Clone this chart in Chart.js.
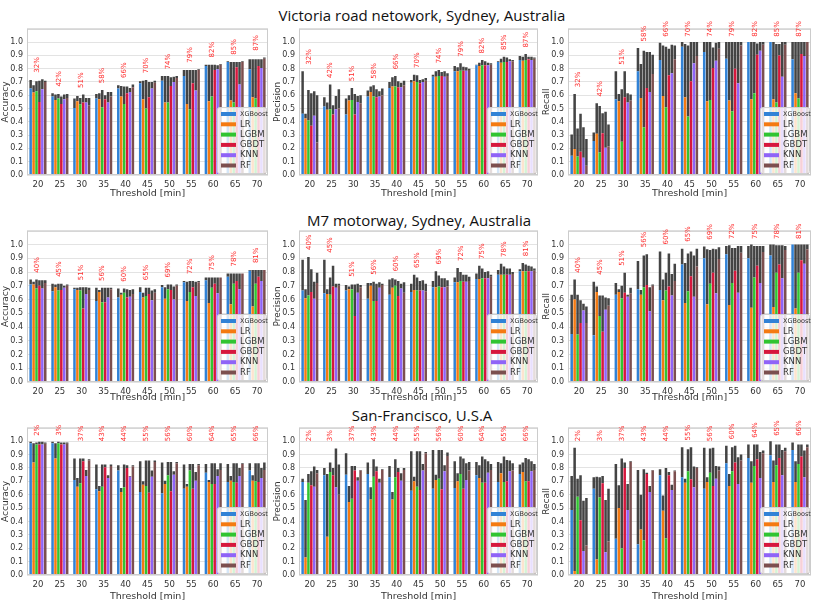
<!DOCTYPE html>
<html lang="en">
<head>
<meta charset="UTF-8">
<title>Threshold comparison</title>
<style>
    body { margin: 0; background: #fff; width: 813px; height: 603px; position: relative; overflow: hidden; }
    .panel { position: absolute; }
    .rowtitle { position: absolute; font-family: "Open Sans", sans-serif; font-size: 15px; color: #111;
                white-space: nowrap; transform: translateX(-50%); line-height: 18px; }
</style>
</head>
<body>
<div class="rowtitle" style="left:422px;top:6px">Victoria road netowork, Sydney, Australia</div>
<div class="rowtitle" style="left:419px;top:211px">M7 motorway, Sydney, Australia</div>
<div class="rowtitle" style="left:422px;top:406px">San-Francisco, U.S.A</div>

<div class="panel" style="left:0px;top:20px;width:270px;height:180px"><canvas id="vicAcc"></canvas></div>
<div class="panel" style="left:272px;top:20px;width:268px;height:180px"><canvas id="vicPre"></canvas></div>
<div class="panel" style="left:541px;top:20px;width:272px;height:180px"><canvas id="vicRec"></canvas></div>

<div class="panel" style="left:0px;top:222px;width:270px;height:182px"><canvas id="m7Acc"></canvas></div>
<div class="panel" style="left:272px;top:222px;width:268px;height:182px"><canvas id="m7Pre"></canvas></div>
<div class="panel" style="left:541px;top:222px;width:272px;height:182px"><canvas id="m7Rec"></canvas></div>

<div class="panel" style="left:0px;top:419px;width:270px;height:184px"><canvas id="sfAcc"></canvas></div>
<div class="panel" style="left:272px;top:419px;width:268px;height:184px"><canvas id="sfPre"></canvas></div>
<div class="panel" style="left:541px;top:419px;width:272px;height:184px"><canvas id="sfRec"></canvas></div>

<script src="https://cdn.jsdelivr.net/npm/chart.js"></script>
<script>
    const thresholds = ['20', '25', '30', '35', '40', '45', '50', '55', '60', '65', '70'];
    const models = ['XGBoost', 'LR', 'LGBM', 'GBDT', 'KNN', 'RF'];
    const modelColors = ['#3182d6', '#f47a12', '#31c431', '#d6173d', '#8f63f7', '#7c4f4f'];

    // red % labels over each threshold group
    const vicPct = [32, 42, 51, 58, 66, 70, 74, 79, 82, 85, 87];
    const m7Pct = [40, 45, 51, 56, 60, 65, 69, 72, 75, 78, 81];
    const sfPct = [2, 3, 37, 43, 44, 55, 56, 60, 64, 65, 66];

    // lo = top of coloured bar, hi = top of the dark error band (one row per model)
    const vicAccLo = [
        [0.65, 0.59, 0.505, 0.575, 0.65, 0.69, 0.71, 0.745, 0.82, 0.85, 0.795],
        [0.62, 0.565, 0.555, 0.57, 0.59, 0.57, 0.545, 0.535, 0.555, 0.56, 0.585],
        [0.63, 0.575, 0.53, 0.51, 0.535, 0.50, 0.545, 0.495, 0.59, 0.545, 0.575],
        [0.55, 0.535, 0.545, 0.57, 0.615, 0.585, 0.67, 0.69, 0.79, 0.81, 0.82],
        [0.645, 0.57, 0.545, 0.545, 0.625, 0.65, 0.70, 0.635, 0.795, 0.68, 0.805],
        [0.70, 0.58, 0.525, 0.59, 0.66, 0.695, 0.73, 0.79, 0.83, 0.85, 0.875]
    ];
    const vicAccHi = [
        [0.715, 0.615, 0.575, 0.61, 0.675, 0.705, 0.745, 0.79, 0.83, 0.855, 0.87],
        [0.675, 0.605, 0.595, 0.615, 0.67, 0.71, 0.745, 0.79, 0.83, 0.85, 0.87],
        [0.705, 0.61, 0.58, 0.64, 0.665, 0.715, 0.745, 0.79, 0.83, 0.85, 0.87],
        [0.71, 0.59, 0.605, 0.60, 0.665, 0.70, 0.735, 0.79, 0.83, 0.85, 0.87],
        [0.72, 0.605, 0.58, 0.625, 0.655, 0.70, 0.74, 0.79, 0.825, 0.85, 0.87],
        [0.71, 0.61, 0.58, 0.625, 0.68, 0.71, 0.745, 0.795, 0.835, 0.855, 0.885]
    ];
    const vicPreLo = [
        [0.46, 0.515, 0.455, 0.59, 0.655, 0.695, 0.74, 0.78, 0.825, 0.85, 0.865],
        [0.425, 0.49, 0.56, 0.625, 0.665, 0.705, 0.74, 0.78, 0.82, 0.845, 0.86],
        [0.41, 0.495, 0.565, 0.59, 0.665, 0.70, 0.745, 0.785, 0.825, 0.85, 0.865],
        [0.37, 0.455, 0.455, 0.585, 0.66, 0.69, 0.745, 0.785, 0.825, 0.85, 0.87],
        [0.445, 0.495, 0.55, 0.59, 0.66, 0.70, 0.74, 0.785, 0.825, 0.855, 0.865],
        [0.245, 0.50, 0.54, 0.60, 0.675, 0.71, 0.745, 0.79, 0.83, 0.855, 0.875]
    ];
    const vicPreHi = [
        [0.78, 0.585, 0.575, 0.635, 0.70, 0.715, 0.755, 0.82, 0.83, 0.855, 0.895],
        [0.46, 0.545, 0.60, 0.665, 0.735, 0.755, 0.78, 0.81, 0.845, 0.875, 0.89],
        [0.64, 0.68, 0.655, 0.675, 0.745, 0.75, 0.79, 0.84, 0.865, 0.89, 0.91],
        [0.615, 0.525, 0.61, 0.645, 0.705, 0.715, 0.775, 0.815, 0.855, 0.885, 0.89],
        [0.63, 0.595, 0.595, 0.63, 0.695, 0.72, 0.78, 0.81, 0.845, 0.87, 0.89],
        [0.60, 0.645, 0.60, 0.65, 0.71, 0.73, 0.765, 0.80, 0.84, 0.865, 0.885]
    ];
    const vicRecLo = [
        [0.145, 0.255, 0.57, 0.78, 0.865, 0.965, 0.925, 0.875, 1.0, 1.0, 0.87],
        [0.195, 0.31, 0.555, 0.58, 0.595, 0.585, 0.555, 0.56, 0.57, 0.57, 0.615],
        [0.14, 0.17, 0.25, 0.36, 0.51, 0.44, 0.565, 0.48, 0.615, 0.545, 0.575],
        [0.175, 0.315, 0.585, 0.655, 0.75, 0.705, 0.805, 0.80, 0.905, 0.90, 0.91],
        [0.13, 0.205, 0.545, 0.625, 0.765, 0.84, 0.86, 0.69, 0.935, 0.74, 0.895],
        [0.07, 0.215, 0.56, 0.76, 0.87, 0.895, 0.95, 0.975, 0.98, 0.98, 1.0]
    ];
    const vicRecHi = [
        [0.305, 0.32, 0.78, 0.955, 0.995, 1.0, 1.0, 1.0, 1.0, 1.0, 1.0],
        [0.61, 0.54, 0.61, 0.835, 0.975, 0.985, 1.0, 1.0, 1.0, 1.0, 1.0],
        [0.35, 0.52, 0.645, 0.935, 0.965, 0.975, 1.0, 1.0, 1.0, 0.985, 1.0],
        [0.46, 0.465, 0.78, 0.925, 0.95, 1.0, 0.96, 1.0, 0.99, 0.985, 1.0],
        [0.36, 0.475, 0.615, 0.925, 0.98, 1.0, 0.995, 1.0, 1.0, 1.0, 1.0],
        [0.27, 0.38, 0.605, 0.905, 0.975, 1.0, 1.0, 1.0, 1.0, 1.0, 1.0]
    ];

    const m7AccLo = [
        [0.71, 0.66, 0.675, 0.59, 0.615, 0.655, 0.69, 0.725, 0.74, 0.765, 0.81],
        [0.71, 0.69, 0.67, 0.655, 0.635, 0.615, 0.605, 0.59, 0.575, 0.565, 0.55],
        [0.68, 0.665, 0.665, 0.58, 0.65, 0.625, 0.675, 0.655, 0.685, 0.715, 0.715],
        [0.70, 0.67, 0.535, 0.58, 0.615, 0.64, 0.67, 0.69, 0.715, 0.735, 0.765],
        [0.68, 0.685, 0.64, 0.615, 0.62, 0.595, 0.60, 0.625, 0.645, 0.675, 0.735],
        [0.72, 0.70, 0.67, 0.675, 0.64, 0.65, 0.70, 0.725, 0.76, 0.79, 0.815]
    ];
    const m7AccHi = [
        [0.745, 0.715, 0.685, 0.685, 0.68, 0.69, 0.705, 0.735, 0.76, 0.79, 0.815],
        [0.73, 0.71, 0.685, 0.67, 0.65, 0.65, 0.69, 0.73, 0.76, 0.79, 0.815],
        [0.745, 0.715, 0.69, 0.685, 0.68, 0.685, 0.71, 0.735, 0.76, 0.79, 0.815],
        [0.74, 0.715, 0.69, 0.685, 0.675, 0.685, 0.71, 0.735, 0.76, 0.79, 0.815],
        [0.74, 0.70, 0.69, 0.685, 0.67, 0.665, 0.695, 0.73, 0.76, 0.79, 0.815],
        [0.74, 0.71, 0.685, 0.685, 0.675, 0.675, 0.71, 0.735, 0.76, 0.79, 0.815]
    ];
    const m7PreLo = [
        [0.665, 0.645, 0.665, 0.605, 0.635, 0.655, 0.69, 0.725, 0.75, 0.78, 0.805],
        [0.61, 0.64, 0.675, 0.70, 0.685, 0.67, 0.69, 0.725, 0.75, 0.78, 0.805],
        [0.63, 0.635, 0.675, 0.59, 0.70, 0.665, 0.695, 0.735, 0.755, 0.78, 0.805],
        [0.655, 0.695, 0.48, 0.59, 0.625, 0.665, 0.69, 0.73, 0.755, 0.78, 0.805],
        [0.605, 0.685, 0.65, 0.685, 0.68, 0.665, 0.69, 0.73, 0.755, 0.78, 0.805],
        [0.72, 0.70, 0.69, 0.705, 0.65, 0.66, 0.695, 0.735, 0.765, 0.785, 0.81]
    ];
    const m7PreHi = [
        [0.89, 0.89, 0.705, 0.72, 0.745, 0.715, 0.735, 0.76, 0.79, 0.815, 0.82],
        [0.675, 0.675, 0.695, 0.72, 0.755, 0.78, 0.805, 0.83, 0.845, 0.86, 0.865],
        [0.91, 0.76, 0.71, 0.73, 0.745, 0.76, 0.775, 0.80, 0.825, 0.84, 0.855],
        [0.82, 0.845, 0.71, 0.715, 0.735, 0.735, 0.755, 0.78, 0.80, 0.825, 0.845],
        [0.73, 0.715, 0.715, 0.725, 0.715, 0.74, 0.755, 0.78, 0.805, 0.825, 0.84],
        [0.795, 0.715, 0.705, 0.715, 0.725, 0.715, 0.74, 0.765, 0.78, 0.80, 0.825]
    ];
    const m7RecLo = [
        [0.35, 0.34, 0.635, 0.675, 0.67, 0.855, 0.90, 0.93, 0.90, 0.92, 1.0],
        [0.60, 0.655, 0.655, 0.635, 0.595, 0.575, 0.565, 0.56, 0.54, 0.545, 0.535],
        [0.345, 0.48, 0.61, 0.69, 0.665, 0.66, 0.715, 0.72, 0.76, 0.795, 0.795],
        [0.43, 0.365, 0.65, 0.705, 0.695, 0.77, 0.795, 0.81, 0.845, 0.855, 0.885],
        [0.52, 0.525, 0.62, 0.515, 0.63, 0.62, 0.645, 0.65, 0.72, 0.755, 0.86],
        [0.43, 0.555, 0.645, 0.70, 0.735, 0.84, 0.895, 0.94, 0.945, 0.96, 0.965]
    ];
    const m7RecHi = [
        [0.635, 0.73, 0.72, 0.88, 0.95, 0.97, 0.985, 0.99, 0.99, 1.0, 1.0],
        [0.745, 0.695, 0.675, 0.67, 0.745, 0.865, 0.965, 0.995, 1.0, 1.0, 1.0],
        [0.635, 0.63, 0.70, 0.92, 0.795, 0.935, 0.96, 0.975, 0.99, 0.995, 1.0],
        [0.595, 0.63, 0.795, 0.93, 0.935, 0.95, 0.97, 0.975, 0.99, 0.995, 1.0],
        [0.57, 0.615, 0.635, 0.69, 0.785, 0.92, 0.965, 0.99, 0.99, 0.995, 1.0],
        [0.55, 0.61, 0.685, 0.71, 0.86, 0.97, 0.98, 0.99, 0.99, 0.99, 1.0]
    ];

    const sfAccLo = [
        [0.985, 0.985, 0.71, 0.64, 0.78, 0.62, 0.61, 0.645, 0.765, 0.695, 0.78],
        [0.84, 0.87, 0.66, 0.625, 0.62, 0.675, 0.68, 0.66, 0.695, 0.705, 0.705],
        [0.975, 0.985, 0.685, 0.66, 0.655, 0.665, 0.745, 0.78, 0.68, 0.695, 0.70],
        [0.975, 0.975, 0.85, 0.805, 0.80, 0.615, 0.625, 0.645, 0.68, 0.69, 0.695],
        [0.975, 0.975, 0.74, 0.725, 0.735, 0.735, 0.75, 0.705, 0.74, 0.74, 0.725],
        [0.98, 0.98, 0.855, 0.815, 0.81, 0.845, 0.835, 0.82, 0.785, 0.83, 0.785]
    ];
    const sfAccHi = [
        [0.995, 0.995, 0.87, 0.825, 0.82, 0.85, 0.84, 0.825, 0.83, 0.83, 0.835],
        [0.985, 0.985, 0.725, 0.665, 0.65, 0.70, 0.705, 0.68, 0.71, 0.74, 0.745],
        [0.99, 0.995, 0.87, 0.825, 0.825, 0.855, 0.845, 0.83, 0.835, 0.835, 0.835],
        [0.995, 0.99, 0.87, 0.825, 0.82, 0.855, 0.845, 0.83, 0.835, 0.835, 0.835],
        [0.995, 0.99, 0.785, 0.745, 0.74, 0.78, 0.775, 0.77, 0.79, 0.80, 0.80],
        [0.99, 0.99, 0.865, 0.825, 0.82, 0.855, 0.845, 0.83, 0.835, 0.835, 0.84]
    ];
    const sfPreLo = [
        [0.695, 0.745, 0.75, 0.755, 0.73, 0.63, 0.645, 0.65, 0.745, 0.695, 0.755],
        [0.13, 0.285, 0.545, 0.565, 0.565, 0.70, 0.71, 0.70, 0.725, 0.76, 0.77],
        [0.69, 0.77, 0.57, 0.735, 0.73, 0.66, 0.72, 0.755, 0.69, 0.695, 0.70],
        [0.67, 0.745, 0.78, 0.775, 0.77, 0.635, 0.64, 0.645, 0.69, 0.70, 0.70],
        [0.66, 0.655, 0.705, 0.69, 0.705, 0.78, 0.775, 0.71, 0.765, 0.775, 0.775],
        [0.76, 0.60, 0.78, 0.785, 0.785, 0.91, 0.89, 0.78, 0.785, 0.78, 0.785]
    ];
    const sfPreHi = [
        [0.72, 0.80, 0.91, 0.84, 0.815, 0.925, 0.935, 0.85, 0.845, 0.845, 0.825],
        [0.56, 0.755, 0.665, 0.655, 0.62, 0.735, 0.75, 0.76, 0.82, 0.835, 0.84],
        [0.755, 0.84, 0.815, 0.865, 0.865, 0.925, 0.935, 0.885, 0.885, 0.885, 0.875],
        [0.775, 0.80, 0.815, 0.81, 0.80, 0.925, 0.935, 0.87, 0.865, 0.86, 0.865],
        [0.81, 0.945, 0.73, 0.72, 0.76, 0.83, 0.82, 0.835, 0.85, 0.855, 0.85],
        [0.785, 0.825, 0.785, 0.79, 0.80, 0.92, 0.915, 0.845, 0.83, 0.835, 0.83]
    ];
    const sfRecLo = [
        [0.485, 0.645, 0.27, 0.23, 0.745, 0.73, 0.645, 0.835, 0.875, 0.895, 0.935],
        [0.03, 0.115, 0.50, 0.34, 0.48, 0.69, 0.695, 0.665, 0.69, 0.695, 0.695],
        [0.585, 0.58, 0.20, 0.26, 0.275, 0.775, 0.765, 0.775, 0.815, 0.82, 0.83],
        [0.41, 0.685, 0.80, 0.755, 0.745, 0.715, 0.665, 0.84, 0.865, 0.875, 0.885],
        [0.18, 0.17, 0.485, 0.62, 0.635, 0.655, 0.72, 0.68, 0.725, 0.745, 0.73],
        [0.22, 0.25, 0.845, 0.78, 0.775, 0.80, 0.78, 0.855, 0.91, 0.925, 0.955]
    ];
    const sfRecHi = [
        [0.74, 0.73, 0.83, 0.785, 0.79, 0.955, 0.95, 0.965, 0.975, 1.0, 0.99],
        [0.95, 0.735, 0.67, 0.60, 0.595, 0.72, 0.73, 0.755, 0.85, 0.855, 0.85],
        [0.72, 0.73, 0.87, 0.79, 0.80, 0.94, 0.945, 0.955, 0.975, 0.975, 0.975],
        [0.745, 0.74, 0.84, 0.765, 0.77, 0.955, 0.95, 0.965, 0.975, 0.975, 0.975],
        [0.555, 0.56, 0.68, 0.665, 0.675, 0.81, 0.815, 0.88, 0.92, 0.935, 0.93],
        [0.575, 0.645, 0.85, 0.785, 0.78, 0.805, 0.81, 0.90, 0.93, 0.95, 0.975]
    ];

    const textColor = '#333';
    const errColor = 'rgba(52,52,52,0.92)';

    // frame round the plot area, legend box in the lower right, red % labels on top
    const panelPlugin = {
        id: 'panelExtras',
        afterDatasetsDraw(chart) {
            const { ctx, chartArea: a } = chart;
            ctx.save();
            ctx.strokeStyle = '#cccccc';
            ctx.lineWidth = 1;
            ctx.strokeRect(a.left + 0.5, a.top + 0.5, a.width - 1, a.height - 1);

            const bw = 49, bh = 66;
            const bx = a.right - bw - 2, by = a.bottom - bh - 2;
            ctx.fillStyle = 'rgba(255,255,255,0.8)';
            ctx.strokeStyle = '#d0d0d0';
            ctx.beginPath();
            ctx.roundRect(bx + 0.5, by + 0.5, bw, bh, 2);
            ctx.fill();
            ctx.stroke();
            models.forEach((m, i) => {
                const yy = by + 7 + i * 10.3;
                ctx.fillStyle = modelColors[i];
                ctx.fillRect(bx + 4, yy - 2, 15, 4);
                ctx.fillStyle = textColor;
                ctx.font = (i === 0 ? '6.5px' : '8.5px') + ' "DejaVu Sans"';
                ctx.textBaseline = 'middle';
                ctx.textAlign = 'left';
                ctx.fillText(m, bx + 23, yy);
            });
            ctx.restore();
        },
        afterDraw(chart) {
            const { ctx } = chart;
            const opt = chart.options.plugins.panelExtras;
            const xs = chart.scales.x, ys = chart.scales.y;
            ctx.save();
            ctx.fillStyle = '#ff2b2b';
            ctx.font = '7px "DejaVu Sans"';
            ctx.textBaseline = 'middle';
            ctx.textAlign = 'left';
            opt.pct.forEach((p, j) => {
                const top = Math.max(...opt.hi.map(r => r[j]));
                const v = Math.min(Math.max(top + 0.05, opt.floor), 1.04);
                ctx.save();
                ctx.translate(xs.getPixelForValue(j) - 1, ys.getPixelForValue(v));
                ctx.rotate(-Math.PI / 2);
                ctx.fillText(p + '%', 0, 0);
                ctx.restore();
            });
            ctx.restore();
        }
    };

    const makePanel = (id, lo, hi, pct, yTitle, topPad, xHeight, floor) => {
        const datasets = [];
        models.forEach((m, i) => {
            datasets.push({
                label: m, data: lo[i], backgroundColor: modelColors[i], stack: 's' + i,
                barPercentage: 0.86, categoryPercentage: 0.8
            });
        });
        models.forEach((m, i) => {
            datasets.push({
                label: m + ' std', data: hi[i].map((h, j) => Math.max(0, h - lo[i][j])),
                backgroundColor: errColor, stack: 's' + i,
                barPercentage: 0.86, categoryPercentage: 0.8
            });
        });

        new Chart(document.getElementById(id), {
            type: 'bar',
            data: { labels: thresholds, datasets: datasets },
            options: {
                responsive: true,
                maintainAspectRatio: false,
                animation: false,
                layout: { padding: { top: topPad, right: 2, left: 0, bottom: 0 } },
                plugins: {
                    legend: { display: false },
                    tooltip: { enabled: false },
                    panelExtras: { pct: pct, hi: hi, floor: floor }
                },
                scales: {
                    x: {
                        stacked: true,
                        grid: { display: false, drawTicks: false },
                        border: { display: false },
                        ticks: { color: textColor, font: { size: 8.5, family: 'DejaVu Sans' }, padding: 5 },
                        title: { display: true, text: 'Threshold [min]', color: textColor,
                                 font: { size: 9.5, family: 'DejaVu Sans' }, padding: { top: 0, bottom: 1 } },
                        afterFit: s => { s.height = xHeight; }
                    },
                    y: {
                        stacked: true,
                        min: 0,
                        max: 1.1,
                        grid: { color: '#e3e3e3', drawTicks: false },
                        border: { display: false },
                        ticks: {
                            stepSize: 0.1, color: textColor, padding: 4,
                            font: { size: 8, family: 'DejaVu Sans' },
                            callback: v => (v > 1.05 ? '' : v.toFixed(1))
                        },
                        title: { display: true, text: yTitle, color: textColor,
                                 font: { size: 9, family: 'DejaVu Sans' }, padding: { top: 0, bottom: 0 } },
                        afterFit: s => { s.width = 27; }
                    }
                }
            },
            plugins: [panelPlugin]
        });
    };

    makePanel('vicAcc', vicAccLo, vicAccHi, vicPct, 'Accuracy', 6, 25, 0);
    makePanel('vicPre', vicPreLo, vicPreHi, vicPct, 'Precision', 6, 25, 0);
    makePanel('vicRec', vicRecLo, vicRecHi, vicPct, 'Recall', 6, 25, 0);

    makePanel('m7Acc', m7AccLo, m7AccHi, m7Pct, 'Accuracy', 8, 22, 0);
    makePanel('m7Pre', m7PreLo, m7PreHi, m7Pct, 'Precision', 8, 22, 0);
    makePanel('m7Rec', m7RecLo, m7RecHi, m7Pct, 'Recall', 8, 22, 0);

    makePanel('sfAcc', sfAccLo, sfAccHi, sfPct, 'Accuracy', 6, 28, 1.0);
    makePanel('sfPre', sfPreLo, sfPreHi, sfPct, 'Precision', 6, 28, 1.0);
    makePanel('sfRec', sfRecLo, sfRecHi, sfPct, 'Recall', 6, 28, 1.0);
</script>
</body>
</html>
